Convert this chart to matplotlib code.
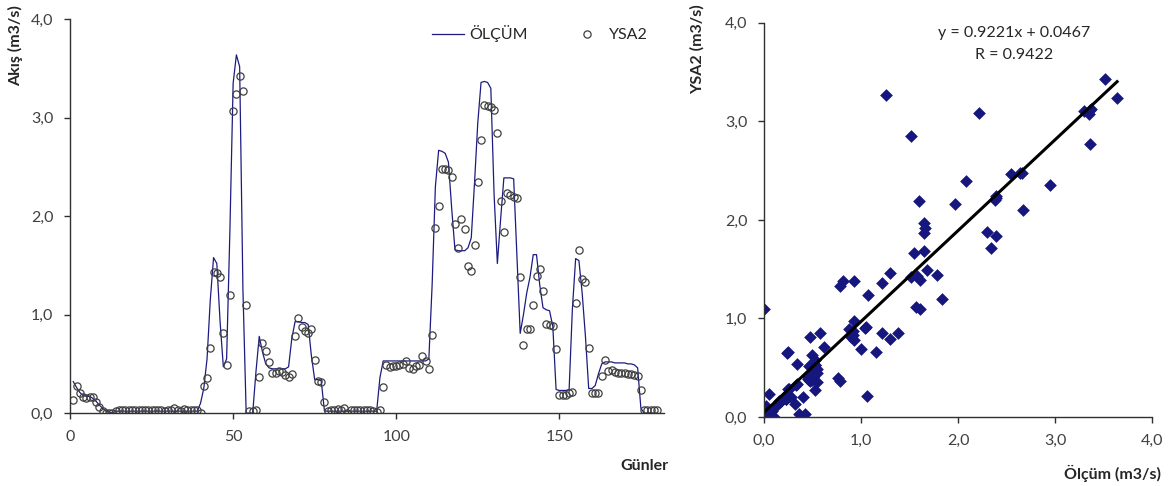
import matplotlib
matplotlib.use("Agg")
import matplotlib.pyplot as plt
from matplotlib.ticker import FuncFormatter, MultipleLocator

plt.rcParams['font.family'] = ['Lato', 'DejaVu Sans']

# daily flow, measured (ÖLÇÜM) and network output (YSA2), m3/s
days = list(range(1, 181))
olcum = [
    0.32, 0.26, 0.21, 0.18, 0.17, 0.17, 0.15, 0.12, 0.08, 0.05,
    0.02, 0.01, 0.00, 0.02, 0.02, 0.02, 0.02, 0.02, 0.02, 0.02,
    0.02, 0.02, 0.02, 0.02, 0.02, 0.02, 0.02, 0.02, 0.02, 0.02,
    0.02, 0.02, 0.02, 0.02, 0.02, 0.02, 0.02, 0.02, 0.02, 0.10,
    0.25, 0.55, 1.15, 1.58, 1.52, 0.93, 0.47, 0.55, 1.84, 3.35,
    3.64, 3.52, 1.26, 0.00, 0.00, 0.00, 0.42, 0.78, 0.62, 0.50,
    0.46, 0.45, 0.45, 0.45, 0.45, 0.45, 0.47, 0.76, 0.93, 0.93,
    0.92, 0.92, 0.90, 0.58, 0.34, 0.34, 0.33, 0.02, 0.02, 0.02,
    0.02, 0.02, 0.02, 0.02, 0.02, 0.02, 0.02, 0.02, 0.02, 0.02,
    0.02, 0.02, 0.02, 0.02, 0.36, 0.53, 0.53, 0.53, 0.53, 0.53,
    0.53, 0.53, 0.53, 0.53, 0.53, 0.53, 0.53, 0.53, 0.53, 0.55,
    1.30, 2.30, 2.67, 2.66, 2.64, 2.55, 2.08, 1.66, 1.65, 1.65,
    1.65, 1.68, 1.78, 2.34, 2.95, 3.36, 3.37, 3.36, 3.30, 2.22,
    1.52, 1.97, 2.39, 2.39, 2.39, 2.38, 1.60, 0.81, 1.00, 1.22,
    1.38, 1.61, 1.61, 1.30, 1.07, 1.05, 1.04, 0.88, 0.24, 0.23,
    0.23, 0.23, 0.24, 1.06, 1.57, 1.55, 1.22, 0.78, 0.25, 0.25,
    0.28, 0.40, 0.50, 0.52, 0.52, 0.52, 0.51, 0.51, 0.51, 0.51,
    0.50, 0.50, 0.49, 0.46, 0.05, 0.00, 0.00, 0.00, 0.00, 0.00,
]
ysa2 = [
    0.13, 0.28, 0.20, 0.16, 0.15, 0.16, 0.16, 0.11, 0.06, 0.02,
    0.00, 0.00, 0.00, 0.02, 0.03, 0.03, 0.03, 0.03, 0.03, 0.03,
    0.03, 0.03, 0.03, 0.03, 0.03, 0.03, 0.03, 0.03, 0.02, 0.03,
    0.03, 0.05, 0.03, 0.02, 0.04, 0.03, 0.03, 0.03, 0.03, 0.00,
    0.28, 0.36, 0.66, 1.43, 1.42, 1.38, 0.81, 0.49, 1.20, 3.07,
    3.24, 3.43, 3.27, 1.10, 0.02, 0.02, 0.03, 0.37, 0.71, 0.63,
    0.52, 0.41, 0.41, 0.43, 0.42, 0.39, 0.37, 0.40, 0.78, 0.97,
    0.87, 0.83, 0.81, 0.85, 0.54, 0.33, 0.32, 0.11, 0.02, 0.03,
    0.03, 0.04, 0.03, 0.05, 0.00, 0.03, 0.03, 0.03, 0.03, 0.03,
    0.03, 0.03, 0.02, 0.01, 0.03, 0.27, 0.49, 0.47, 0.48, 0.48,
    0.49, 0.50, 0.53, 0.46, 0.45, 0.48, 0.49, 0.58, 0.53, 0.45,
    0.79, 1.88, 2.10, 2.48, 2.48, 2.47, 2.40, 1.92, 1.68, 1.97,
    1.87, 1.49, 1.44, 1.71, 2.35, 2.77, 3.13, 3.12, 3.11, 3.08,
    2.85, 2.16, 1.84, 2.24, 2.22, 2.20, 2.19, 1.38, 0.69, 0.85,
    0.85, 1.10, 1.39, 1.46, 1.24, 0.91, 0.90, 0.89, 0.65, 0.18,
    0.18, 0.18, 0.20, 0.21, 1.12, 1.66, 1.36, 1.33, 0.66, 0.20,
    0.20, 0.20, 0.38, 0.54, 0.43, 0.44, 0.42, 0.41, 0.41, 0.41,
    0.40, 0.40, 0.39, 0.38, 0.23, 0.03, 0.03, 0.03, 0.03, 0.03,
]

# linear fit reported on the scatter plot
slope = 0.9221
intercept = 0.0467
r_value = 0.9422

text_color = '#262626'
tick_color = '#404040'
navy = '#1c1c80'


def comma(v, pos):
    return '{:.1f}'.format(v).replace('.', ',')


def style_axes(ax):
    for side in ('top', 'right'):
        ax.spines[side].set_visible(False)
    for side in ('left', 'bottom'):
        ax.spines[side].set_color('#303030')
        ax.spines[side].set_linewidth(1.0)
    ax.tick_params(direction='out', length=4, width=1.0, color='#303030',
                   labelcolor=tick_color, labelsize=11.5, pad=8)


fig = plt.figure(figsize=(11.71, 4.86), dpi=100)

# time series
ax1 = fig.add_axes([0.0598, 0.150, 0.507, 0.810])
ax1.plot(days, olcum, color=navy, lw=0.9, label='ÖLÇÜM')
ax1.plot(days, ysa2, linestyle='none', marker='o', markersize=5.2,
         markerfacecolor='none', markeredgecolor='#404040',
         markeredgewidth=0.9, label='YSA2')
ax1.set_xlim(0, 182)
ax1.set_ylim(0, 4)
ax1.xaxis.set_major_locator(MultipleLocator(50))
ax1.yaxis.set_major_locator(MultipleLocator(1))
ax1.yaxis.set_major_formatter(FuncFormatter(comma))
style_axes(ax1)
ax1.set_ylabel('Akış (m3/s)', fontweight='bold', fontsize=11.5, color=text_color)
ax1.yaxis.set_label_coords(-0.079, 1.036)
ax1.yaxis.label.set_horizontalalignment('right')
ax1.text(1.008, -0.135, 'Günler', transform=ax1.transAxes, ha='right',
         va='center', fontsize=11.5, fontweight='bold', color=text_color)
leg = ax1.legend(loc='center left', bbox_to_anchor=(0.609, 0.964), ncol=2,
                 frameon=False, fontsize=11.5, handlelength=2.06,
                 columnspacing=2.7, handletextpad=0.3, borderaxespad=0,
                 borderpad=0)
for t in leg.get_texts():
    t.set_color(text_color)

# scatter of measured vs predicted
ax2 = fig.add_axes([0.6524, 0.142, 0.3314, 0.811])
ax2.scatter(olcum, ysa2, marker='D', s=42, color='#16167f', linewidths=0)
x_fit = [0.0, max(olcum)]
ax2.plot(x_fit, [slope * x + intercept for x in x_fit], color='black', lw=2.2)
ax2.set_xlim(0, 4)
ax2.set_ylim(0, 4)
ax2.xaxis.set_major_locator(MultipleLocator(1))
ax2.yaxis.set_major_locator(MultipleLocator(1))
ax2.xaxis.set_major_formatter(FuncFormatter(comma))
ax2.yaxis.set_major_formatter(FuncFormatter(comma))
style_axes(ax2)
ax2.set_ylabel('YSA2 (m3/s)', fontweight='bold', fontsize=11.5, color=text_color)
ax2.yaxis.set_label_coords(-0.152, 1.046)
ax2.yaxis.label.set_horizontalalignment('right')
ax2.text(1.023, -0.142, 'Ölçüm (m3/s)', transform=ax2.transAxes, ha='right',
         va='center', fontsize=11.5, fontweight='bold', color=text_color)
ax2.text(0.645, 0.975, 'y = {:.4f}x + {:.4f}'.format(slope, intercept),
         transform=ax2.transAxes, ha='center', va='center', fontsize=11.5,
         color=text_color)
ax2.text(0.645, 0.918, 'R = {:.4f}'.format(r_value), transform=ax2.transAxes,
         ha='center', va='center', fontsize=11.5, color=text_color)

fig.savefig('out.png', dpi=100)
